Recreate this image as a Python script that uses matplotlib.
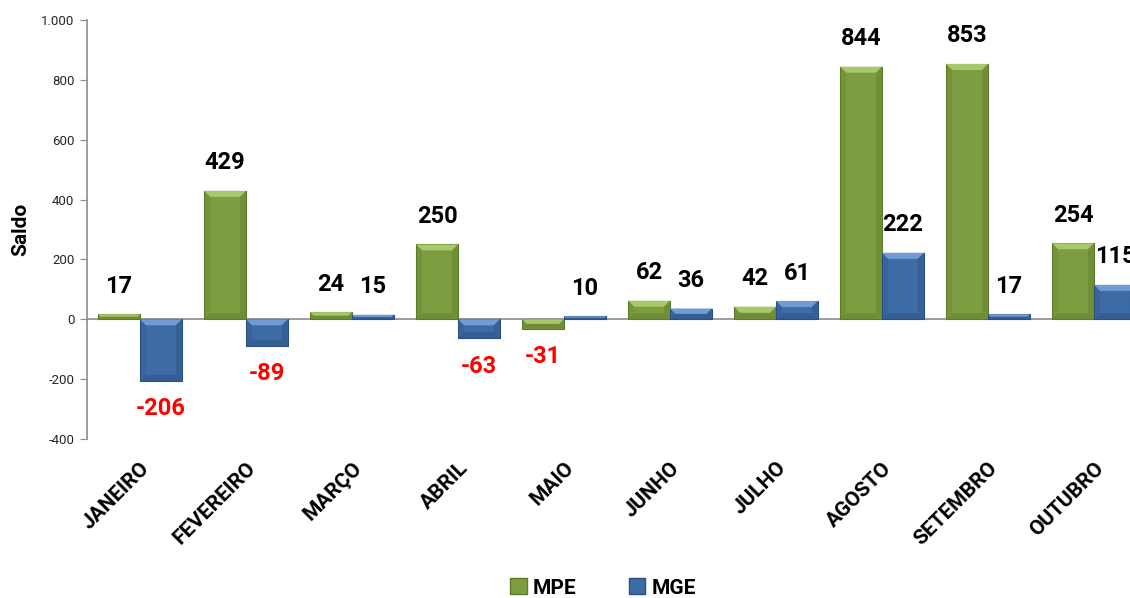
import matplotlib
matplotlib.use("Agg")
import matplotlib.pyplot as plt
from matplotlib.patches import Polygon, Patch
from matplotlib.ticker import FuncFormatter
import numpy as np

months = ["JANEIRO", "FEVEREIRO", "MARÇO", "ABRIL", "MAIO", "JUNHO",
          "JULHO", "AGOSTO", "SETEMBRO", "OUTUBRO"]
mpe = [17, 429, 24, 250, -31, 62, 42, 844, 853, 254]
mge = [-206, -89, 15, -63, 10, 36, 61, 222, 17, 115]
yticks = [-400, -200, 0, 200, 400, 600, 800, 1000]

plt.rcParams['font.family'] = ['Roboto', 'DejaVu Sans']

W, H = 1130, 598
fig = plt.figure(figsize=(W / 100, H / 100), dpi=100)
ax = fig.add_axes([87 / W, 1 - 439 / H, (1147 - 87) / W, (439 - 20) / H])

x = np.arange(len(months))
bw = 0.395
green, green_hi, green_lo = "#7C9D40", "#A9C86C", "#5E7A2C"
blue, blue_hi, blue_lo = "#3D6CA6", "#719BD2", "#2B4F7E"

bars1 = ax.bar(x - bw / 2, mpe, bw, color=green, edgecolor=green_lo, linewidth=0.8, zorder=3)
bars2 = ax.bar(x + bw / 2, mge, bw, color=blue, edgecolor=blue_lo, linewidth=0.8, zorder=3)

ax.set_xlim(-0.5, len(months) - 0.5)
ax.set_ylim(-400, 1000)

# bevel effect computed from bar geometry
px_x = 1.0 / 106.0
px_y = 1400.0 / 419.0
def bevel(patch, hi, lo):
    x0, y0 = patch.get_x(), patch.get_y()
    w, h = patch.get_width(), patch.get_height()
    ylo, yhi = min(y0, y0 + h), max(y0, y0 + h)
    hgt = yhi - ylo
    d = min(6 * px_y, hgt / 2.0)
    dx = min(6 * px_x, d / px_y * px_x)
    top = Polygon([[x0, yhi], [x0 + w, yhi], [x0 + w - dx, yhi - d], [x0 + dx, yhi - d]],
                  closed=True, facecolor=hi, edgecolor='none', zorder=4)
    bot = Polygon([[x0, ylo], [x0 + w, ylo], [x0 + w - dx, ylo + d], [x0 + dx, ylo + d]],
                  closed=True, facecolor=lo, edgecolor='none', zorder=4, alpha=0.45)
    left = Polygon([[x0, ylo], [x0, yhi], [x0 + dx, yhi - d], [x0 + dx, ylo + d]],
                   closed=True, facecolor=lo, edgecolor='none', zorder=4, alpha=0.25)
    right = Polygon([[x0 + w, ylo], [x0 + w, yhi], [x0 + w - dx, yhi - d], [x0 + w - dx, ylo + d]],
                    closed=True, facecolor=lo, edgecolor='none', zorder=4, alpha=0.4)
    for p in (top, bot, left, right):
        ax.add_patch(p)

for p in bars1:
    bevel(p, green_hi, green_lo)
for p in bars2:
    bevel(p, blue_hi, blue_lo)

# value labels
off = 28 * px_y
for bars, vals in ((bars1, mpe), (bars2, mge)):
    for p, v in zip(bars, vals):
        cx = p.get_x() + p.get_width() / 2
        if v >= 0:
            ax.text(cx, v + off, f"{v}", ha='center', va='center', fontsize=17,
                    fontweight='bold', color='black', zorder=5)
        else:
            ax.text(cx, v - off, f"{v}", ha='center', va='center', fontsize=17,
                    fontweight='bold', color='#FF0000', zorder=5)

ax.axhline(0, color='#8C8C8C', linewidth=1.2, zorder=2)

for s in ('top', 'right', 'bottom'):
    ax.spines[s].set_visible(False)
ax.spines['left'].set_color('#8C8C8C')
ax.spines['left'].set_linewidth(1.2)

ax.set_yticks(yticks)
ax.yaxis.set_major_formatter(FuncFormatter(lambda v, p: f"{int(v):,}".replace(",", ".")))
ax.tick_params(axis='y', length=5, color='#8C8C8C', labelsize=9.5, labelcolor='#262626', pad=4)
ax.set_xticks(x)
ax.set_xticklabels(months, rotation=45, ha='right', rotation_mode='anchor',
                   fontsize=15, fontweight='bold')
ax.tick_params(axis='x', length=0, pad=14)

ax.set_ylabel("Saldo", fontsize=15, fontweight='bold', labelpad=8)

handles = [Patch(facecolor=green, edgecolor=green_lo, label="MPE"),
           Patch(facecolor=blue, edgecolor=blue_lo, label="MGE")]
fig.legend(handles=handles, loc='center', bbox_to_anchor=(603 / W, 1 - 588 / H), ncol=2,
           frameon=False, prop={'weight': 'bold', 'size': 15}, handlelength=0.8,
           handleheight=0.8, handletextpad=0.3, columnspacing=2.5)

fig.savefig("out.png", dpi=100)
